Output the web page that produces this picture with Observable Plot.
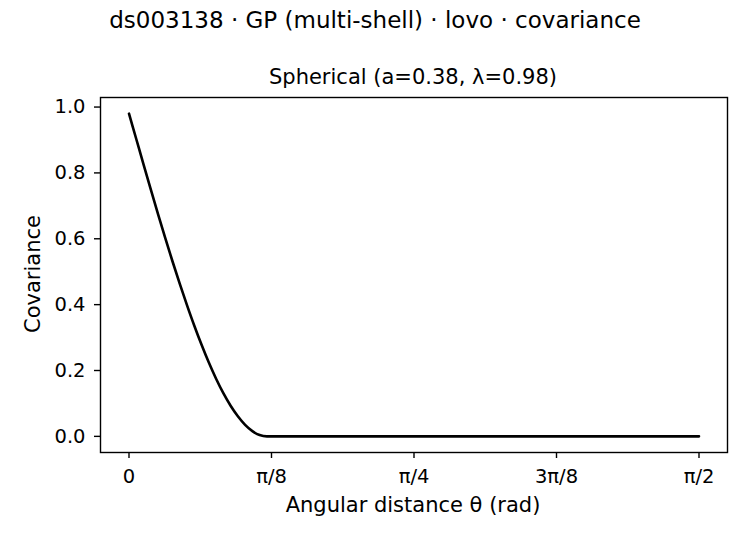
<!DOCTYPE html>
<html><head><meta charset="utf-8">
<script src="https://cdn.jsdelivr.net/npm/d3@7"></script>
<script src="https://cdn.jsdelivr.net/npm/@observablehq/plot@0.6"></script>
<style>
body{margin:0;background:#fff;font-family:"DejaVu Sans",sans-serif;}
#wrap{position:relative;width:750px;height:540px;overflow:hidden;}
#wrap svg{position:absolute;left:0;top:0;}
.t{position:absolute;white-space:nowrap;color:#000;transform:translate(-50%,-50%);}
</style></head>
<body><div id="wrap"></div>
<script>
const suptitle = "ds003138 · GP (multi-shell) · lovo · covariance";
const axTitle = "Spherical (a=0.38, λ=0.98)";
const xLabel = "Angular distance θ (rad)";
const yLabel = "Covariance";
const theta = [0,0.02,0.04,0.06,0.08,0.10,0.12,0.14,0.16,0.18,0.20,0.22,0.24,0.26,0.28,0.30,0.32,0.34,0.36,0.38,1.5708];
const cov = [0.980,0.903,0.826,0.750,0.675,0.602,0.531,0.463,0.398,0.336,0.278,0.224,0.175,0.131,0.093,0.061,0.035,0.016,0.004,0,0];
const xTicks = [0, Math.PI/8, Math.PI/4, 3*Math.PI/8, Math.PI/2];
const xTickLabels = ["0","π/8","π/4","3π/8","π/2"];
const yTicks = [0,0.2,0.4,0.6,0.8,1.0];

const data = theta.map((t,i)=>({t, c: cov[i]}));
const xmax = Math.PI/2, ymax = 0.98;
const svg = Plot.plot({
  width: 750, height: 540,
  marginLeft: 100, marginRight: 23, marginTop: 97, marginBottom: 88,
  style: {fontFamily: "DejaVu Sans, sans-serif", fontSize: "19.5px", color: "#000", background: "#fff"},
  x: {domain: [-0.05*xmax, 1.05*xmax]},
  y: {domain: [-0.05*ymax, 1.05*ymax]},
  marks: [
    Plot.line(data, {x: "t", y: "c", stroke: "#000", strokeWidth: 2.6, curve: "monotone-x"}),
    Plot.frame({stroke: "#000", strokeWidth: 1.4}),
    Plot.axisX({ticks: xTicks, tickFormat: (d,i)=>xTickLabels[i], tickSize: 6, tickPadding: 11, label: null, fontSize: 19.5, strokeWidth: 1.4}),
    Plot.axisY({ticks: yTicks, tickFormat: d3.format(".1f"), tickSize: 6, tickPadding: 9, label: null, fontSize: 19.5, strokeWidth: 1.4})
  ]
});
const wrap = document.getElementById("wrap");
wrap.appendChild(svg);
function addText(txt, x, y, size, rot){
  const d = document.createElement("div");
  d.className = "t"; d.textContent = txt;
  d.style.left = x+"px"; d.style.top = y+"px"; d.style.fontSize = size+"px";
  if (rot) d.style.transform = "translate(-50%,-50%) rotate(-90deg)";
  wrap.appendChild(d);
}
addText(suptitle, 375, 20, 23);
addText(axTitle, 413, 77, 21);
addText(xLabel, 413, 505, 21);
addText(yLabel, 33, 274, 21, true);
</script></body></html>
